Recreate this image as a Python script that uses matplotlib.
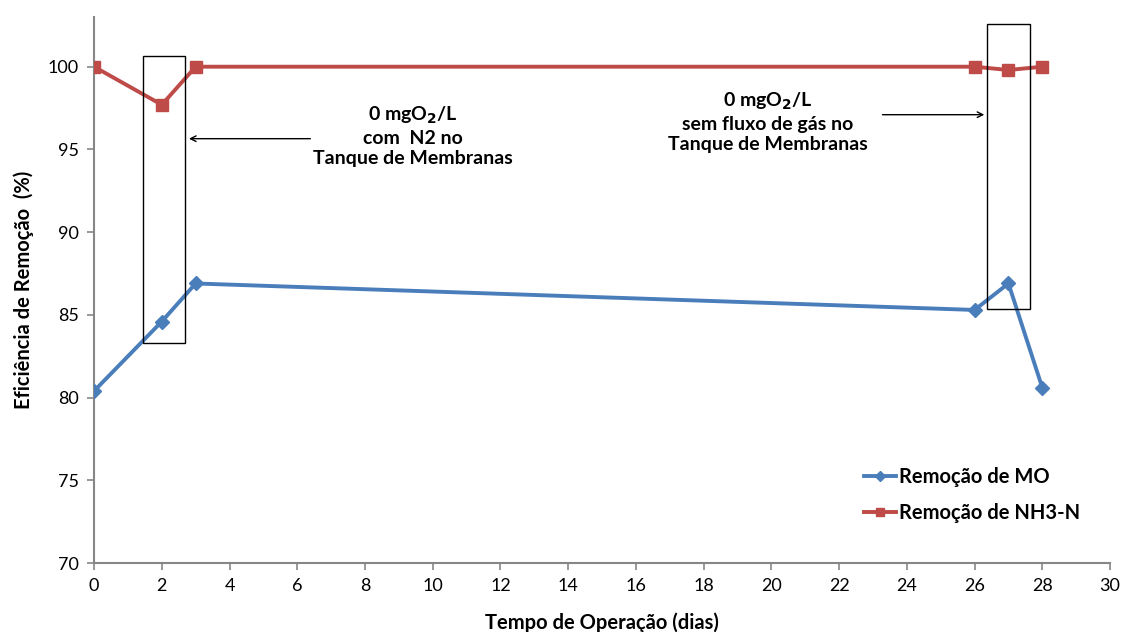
import matplotlib.pyplot as plt
from matplotlib.patches import Rectangle

days = [0, 2, 3, 26, 27, 28]
remocao_mo = [80.4, 84.6, 86.9, 85.3, 86.9, 80.6]
remocao_nh3 = [100.0, 97.7, 100.0, 100.0, 99.8, 100.0]

x_ticks = list(range(0, 31, 2))
y_ticks = [70, 75, 80, 85, 90, 95, 100]

plt.rcParams['font.family'] = ['Lato', 'DejaVu Sans']

fig = plt.figure(figsize=(11.25, 6.32), dpi=100)
ax = fig.add_axes([0.0836, 0.109, 0.9031, 0.864])

blue = '#4a7ebb'
red = '#be4b48'
grey = '#868686'

ax.plot(days, remocao_mo, color=blue, lw=2.8, marker='D', ms=7,
        label='Remoção de MO', zorder=3)
ax.plot(days, remocao_nh3, color=red, lw=2.8, marker='s', ms=8,
        label='Remoção de NH3-N', zorder=3)

ax.set_xlim(0, 30)
ax.set_ylim(70, 103.0)
ax.set_xticks(x_ticks)
ax.set_yticks(y_ticks)
ax.tick_params(axis='both', labelsize=13, color=grey, length=5, width=1.2,
               direction='out', pad=6)
for s in ['top', 'right']:
    ax.spines[s].set_visible(False)
for s in ['left', 'bottom']:
    ax.spines[s].set_color(grey)
    ax.spines[s].set_linewidth(1.5)

ax.set_xlabel('Tempo de Operação (dias)', fontsize=14.5, fontweight='bold',
              labelpad=13)
ax.set_ylabel('Eficiência de Remoção  (%)', fontsize=14.5, fontweight='bold',
              labelpad=10)

# highlighted periods
ax.add_patch(Rectangle((1.45, 83.3), 1.24, 17.37, fill=False, ec='black',
                       lw=1.0, zorder=4))
ax.add_patch(Rectangle((26.37, 85.37), 1.27, 17.23, fill=False, ec='black',
                       lw=1.0, zorder=4))

ax.annotate('', xy=(2.72, 95.65), xytext=(6.47, 95.65),
            arrowprops=dict(arrowstyle='->', color='black', lw=1.0))
ax.annotate('', xy=(26.37, 97.1), xytext=(23.2, 97.1),
            arrowprops=dict(arrowstyle='->', color='black', lw=1.0))

ax.text(9.42, 95.8, '0 mgO$_\\mathbf{2}$/L\ncom  N2 no\nTanque de Membranas',
        ha='center', va='center', fontsize=14, fontweight='bold',
        linespacing=1.25)
ax.text(19.9, 96.65, '0 mgO$_\\mathbf{2}$/L\nsem fluxo de gás no\nTanque de Membranas',
        ha='center', va='center', fontsize=14, fontweight='bold',
        linespacing=1.25)

leg = ax.legend(loc='upper left', bbox_to_anchor=(0.74, 0.21), frameon=False,
                fontsize=14.5, handlelength=1.6, handletextpad=0.15,
                labelspacing=0.8, markerscale=0.8)
for t in leg.get_texts():
    t.set_fontweight('bold')

fig.savefig('out.png', dpi=100)
